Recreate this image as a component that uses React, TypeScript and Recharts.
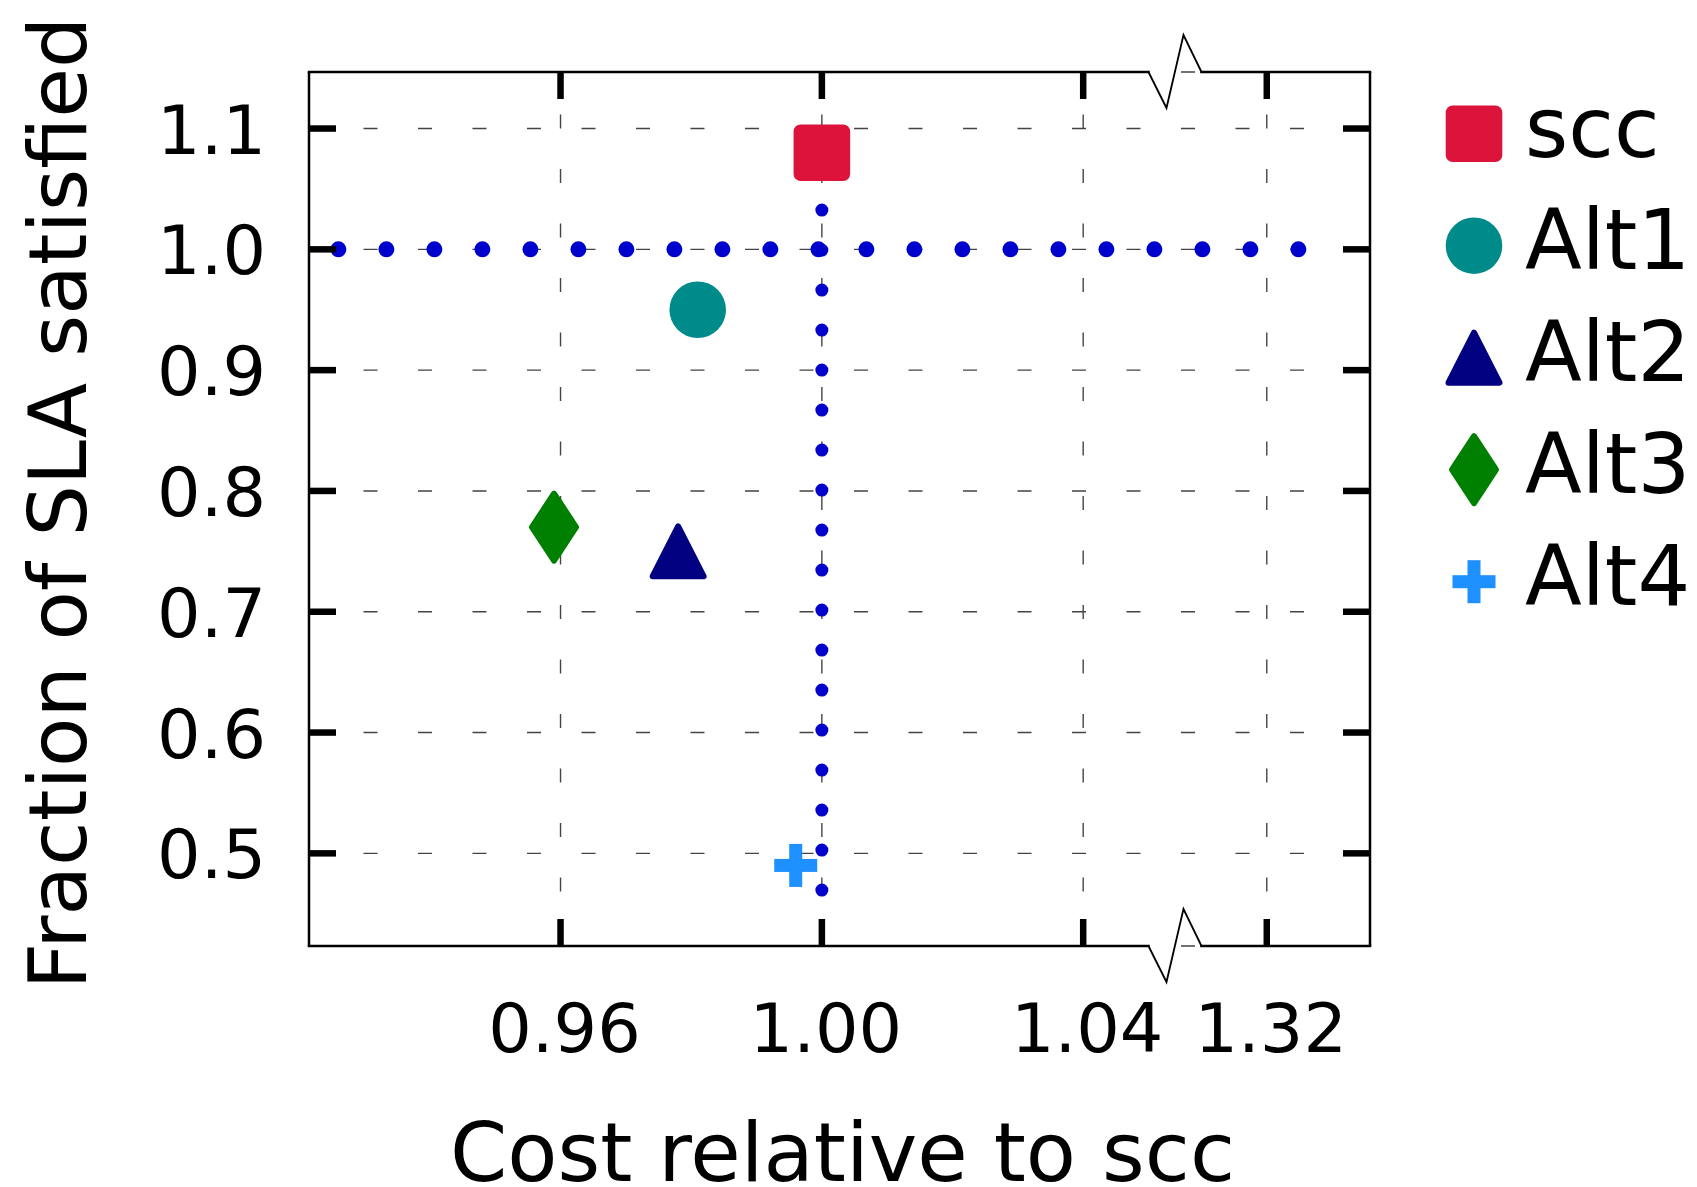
import {
  ScatterChart,
  Scatter,
  XAxis,
  YAxis,
  CartesianGrid,
  Legend,
  ReferenceLine,
  ReferenceDot,
  Label,
} from 'recharts'

const FONT = '"DejaVu Sans", "Liberation Sans", sans-serif'

// one point per configuration
const seriesNames = ['scc', 'Alt1', 'Alt2', 'Alt3', 'Alt4']
const seriesColors = ['#dc143c', '#008b8b', '#000080', '#008000', '#1e90ff']
const costRelative = [1.0, 0.981, 0.978, 0.959, 0.996]
const slaFraction = [1.08, 0.95, 0.75, 0.77, 0.49]

const xTickValues = [0.96, 1.0, 1.04, 1.32]
const yTickValues = [0.5, 0.6, 0.7, 0.8, 0.9, 1.0, 1.1]

// dotted guides: SLA target and scc cost
const slaTarget = 1.0
const slaTargetSpan = [0.926, 1.325]
const sccCost = 1.0
const sccCostSpan = [1.0325, 0.4685]

// broken x axis: [.. 1.05] joined to [1.31 ..] through a small gap
const LEFT_MAX = 1.05
const RIGHT_MIN = 1.31
const GAP = 0.0081
const toAxis = (c: number) => (c <= LEFT_MAX ? c : LEFT_MAX + GAP + (c - RIGHT_MIN))
const fromAxis = (u: number) => (u <= LEFT_MAX ? u : u - LEFT_MAX - GAP + RIGHT_MIN)

const X_DOMAIN: [number, number] = [0.9215, toAxis(1.3358)]
const Y_DOMAIN: [number, number] = [0.4233, 1.1468]
const X_TICKS = xTickValues.map(toAxis)

const TICK_LEN = 27

type MarkerKind = 'square' | 'circle' | 'triangle' | 'diamond' | 'plus'
const seriesMarkers: MarkerKind[] = ['square', 'circle', 'triangle', 'diamond', 'plus']

function Marker({ kind, cx, cy, color }: { kind: MarkerKind; cx: number; cy: number; color: string }) {
  switch (kind) {
    case 'square':
      return <rect x={cx - 28.3} y={cy - 28.3} width={56.6} height={56.6} rx={7} fill={color} />
    case 'circle':
      return <circle cx={cx} cy={cy} r={28.3} fill={color} />
    case 'triangle':
      return (
        <polygon
          points={`${cx},${cy - 25} ${cx + 25.5},${cy + 25} ${cx - 25.5},${cy + 25}`}
          fill={color}
          stroke={color}
          strokeWidth={6}
          strokeLinejoin="round"
        />
      )
    case 'diamond':
      return (
        <polygon
          points={`${cx},${cy - 33.5} ${cx + 22},${cy} ${cx},${cy + 33.5} ${cx - 22},${cy}`}
          fill={color}
          stroke={color}
          strokeWidth={6}
          strokeLinejoin="round"
        />
      )
    default:
      return (
        <g fill={color}>
          <rect x={cx - 21.5} y={cy - 6.5} width={43} height={13} />
          <rect x={cx - 6.5} y={cy - 21.5} width={13} height={43} />
        </g>
      )
  }
}

// zigzag drawn where the x axis is cut
const BreakMark = (props: any) => {
  const { cx, cy } = props
  if (cx == null || cy == null) return <g />
  return (
    <path
      d={`M${cx - 26.5},${cy} L${cx - 8.5},${cy + 36} L${cx + 8.5},${cy - 37} L${cx + 26.5},${cy}`}
      fill="none"
      stroke="#000"
      strokeWidth={1.8}
    />
  )
}

// inward x tick marks at the top and bottom ends of a vertical reference line
const XTickMarks = (props: any) => {
  const { x1, y1, y2 } = props
  if (x1 == null || y1 == null || y2 == null) return <g />
  const top = Math.min(y1, y2)
  const bottom = Math.max(y1, y2)
  return (
    <g stroke="#000" strokeWidth={6.5}>
      <line x1={x1} x2={x1} y1={top} y2={top + TICK_LEN} />
      <line x1={x1} x2={x1} y1={bottom} y2={bottom - TICK_LEN} />
    </g>
  )
}

// tick-only axes still need a truthy tick renderer, otherwise no ticks are laid out
const NoLabel = () => <g />

const XTick = (props: any) => {
  const { x, y, payload } = props
  return (
    <text x={x + 4} y={y + 106} textAnchor="middle" fontSize={68.5} fontFamily={FONT} fill="#000">
      {fromAxis(payload.value).toFixed(2)}
    </text>
  )
}

const YTick = (props: any) => {
  const { x, y, payload } = props
  return (
    <text x={x} y={y + 25} textAnchor="end" fontSize={68.5} fontFamily={FONT} fill="#000">
      {Number(payload.value).toFixed(1)}
    </text>
  )
}

const renderXLabel = (props: any) => {
  const vb = props.viewBox
  return (
    <text
      x={vb.x + vb.width / 2 + 3}
      y={vb.y + vb.height - 6}
      textAnchor="middle"
      fontSize={82}
      fontFamily={FONT}
      fill="#000"
    >
      Cost relative to scc
    </text>
  )
}

const renderYLabel = (props: any) => {
  const vb = props.viewBox
  const x = vb.x + 86
  const y = vb.y + vb.height / 2 - 6
  return (
    <text
      x={x}
      y={y}
      transform={`rotate(-90, ${x}, ${y})`}
      textAnchor="middle"
      fontSize={81}
      fontFamily={FONT}
      fill="#000"
    >
      Fraction of SLA satisfied
    </text>
  )
}

const renderLegend = (props: any) => {
  const fromPayload: string[] =
    props.payload && props.payload.length ? props.payload.map((p: any) => String(p.value)) : seriesNames
  // keep plotting order rather than alphabetical
  const names = [...fromPayload].sort((a, b) => seriesNames.indexOf(a) - seriesNames.indexOf(b))
  return (
    <svg width={259} height={560}>
      {names.map((name, i) => {
        const idx = seriesNames.indexOf(name)
        const cy = 53.7 + i * 112
        return (
          <g key={name}>
            <Marker kind={seriesMarkers[idx]} cx={36} cy={cy} color={seriesColors[idx]} />
            <text x={87} y={cy + 23} fontSize={83} fontFamily={FONT} fill="#000">
              {name}
            </text>
          </g>
        )
      })}
    </svg>
  )
}

const tickMarkLine = { stroke: '#000', strokeWidth: 6.5 }
const frameLine = { stroke: '#000', strokeWidth: 2.5 }

export default function App() {
  return (
    <div style={{ position: 'absolute', left: 0, top: 0, background: '#fff' }}>
      <ScatterChart width={1697} height={1187} margin={{ top: 72, right: 327, bottom: 0, left: 0 }}>
        <CartesianGrid
          xAxisId="x"
          yAxisId="y"
          vertical={false}
          stroke="#444"
          strokeWidth={1.4}
          strokeDasharray="14 40.5"
        />
        <CartesianGrid
          xAxisId="x"
          yAxisId="y"
          horizontal={false}
          stroke="#444"
          strokeWidth={1.4}
          strokeDasharray="14 40.5"
          strokeDashoffset={12}
        />

        <XAxis
          xAxisId="x"
          type="number"
          dataKey="x"
          domain={X_DOMAIN}
          ticks={X_TICKS}
          allowDataOverflow
          interval={0}
          height={241}
          axisLine={false}
          tickLine={false}
          tickSize={0}
          tickMargin={0}
          tick={<XTick />}
        >
          <Label content={renderXLabel} />
        </XAxis>

        <YAxis
          yAxisId="y"
          type="number"
          dataKey="y"
          domain={Y_DOMAIN}
          ticks={yTickValues}
          allowDataOverflow
          interval={0}
          width={309}
          axisLine={frameLine}
          tickLine={false}
          tickSize={0}
          tickMargin={43}
          tick={<YTick />}
        >
          <Label content={renderYLabel} />
        </YAxis>
        <YAxis
          yAxisId="yLeftTicks"
          type="number"
          domain={Y_DOMAIN}
          ticks={yTickValues}
          allowDataOverflow
          interval={0}
          mirror
          axisLine={false}
          tick={NoLabel}
          tickSize={TICK_LEN}
          tickLine={tickMarkLine}
        />
        <YAxis
          yAxisId="yRight"
          orientation="right"
          type="number"
          domain={Y_DOMAIN}
          ticks={yTickValues}
          allowDataOverflow
          interval={0}
          mirror
          axisLine={frameLine}
          tick={NoLabel}
          tickSize={TICK_LEN}
          tickLine={tickMarkLine}
        />

        {/* top and bottom frame, interrupted at the axis break */}
        {[Y_DOMAIN[0], Y_DOMAIN[1]].map((yv) => (
          <ReferenceLine
            key={`fl-${yv}`}
            xAxisId="x"
            yAxisId="y"
            ifOverflow="visible"
            segment={[
              { x: X_DOMAIN[0], y: yv },
              { x: LEFT_MAX, y: yv },
            ]}
            {...frameLine}
            strokeLinecap="square"
          />
        ))}
        {[Y_DOMAIN[0], Y_DOMAIN[1]].map((yv) => (
          <ReferenceLine
            key={`fr-${yv}`}
            xAxisId="x"
            yAxisId="y"
            ifOverflow="visible"
            segment={[
              { x: LEFT_MAX + GAP, y: yv },
              { x: X_DOMAIN[1], y: yv },
            ]}
            {...frameLine}
            strokeLinecap="square"
          />
        ))}
        {[Y_DOMAIN[0], Y_DOMAIN[1]].map((yv) => (
          <ReferenceDot
            key={`brk-${yv}`}
            xAxisId="x"
            yAxisId="y"
            ifOverflow="visible"
            x={LEFT_MAX + GAP / 2}
            y={yv}
            r={0}
            shape={BreakMark}
          />
        ))}
        {X_TICKS.map((t) => (
          <ReferenceLine key={`xt-${t}`} xAxisId="x" yAxisId="y" x={t} shape={XTickMarks} />
        ))}

        <ReferenceLine
          xAxisId="x"
          yAxisId="y"
          ifOverflow="visible"
          segment={[
            { x: toAxis(slaTargetSpan[0]), y: slaTarget },
            { x: toAxis(slaTargetSpan[1]), y: slaTarget },
          ]}
          stroke="#0000cd"
          strokeWidth={16}
          strokeDasharray="0 48"
          strokeLinecap="round"
        />
        <ReferenceLine
          xAxisId="x"
          yAxisId="y"
          ifOverflow="visible"
          segment={[
            { x: toAxis(sccCost), y: sccCostSpan[0] },
            { x: toAxis(sccCost), y: sccCostSpan[1] },
          ]}
          stroke="#0000cd"
          strokeWidth={13}
          strokeDasharray="0 40"
          strokeLinecap="round"
        />

        {seriesNames.map((name, i) => (
          <Scatter
            key={name}
            name={name}
            xAxisId="x"
            yAxisId="y"
            data={[{ x: toAxis(costRelative[i]), y: slaFraction[i] }]}
            fill={seriesColors[i]}
            isAnimationActive={false}
            shape={(p: any) => (
              <Marker kind={seriesMarkers[i]} cx={p.cx} cy={p.cy} color={seriesColors[i]} />
            )}
          />
        ))}

        <Legend
          layout="vertical"
          align="center"
          verticalAlign="middle"
          content={renderLegend}
          wrapperStyle={{ left: 1438, top: 80, width: 259, height: 560 }}
        />
      </ScatterChart>
    </div>
  )
}
